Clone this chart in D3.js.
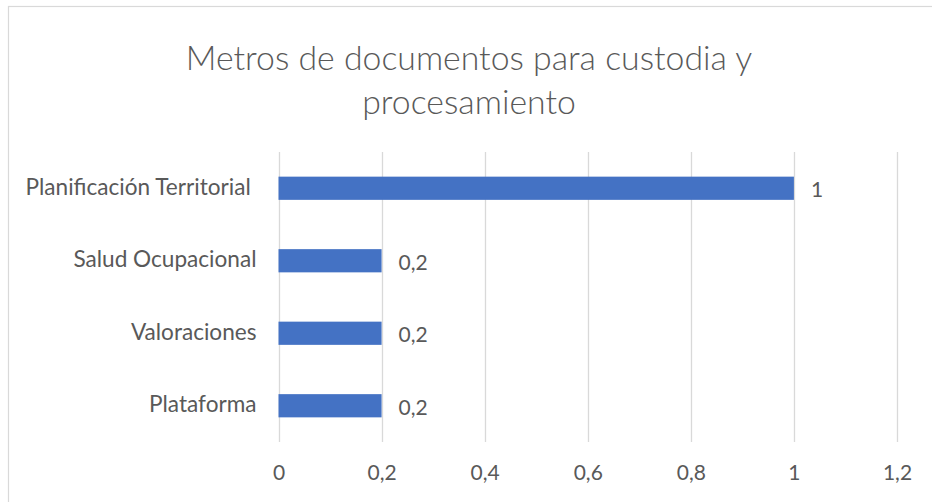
<!DOCTYPE html>
<html>
<head>
<meta charset="utf-8">
<script src="https://cdn.jsdelivr.net/npm/d3@7"></script>
<style>
  body { margin: 0; background: #fff; }
  text { font-family: Lato, "Open Sans", sans-serif; fill: #595959; }
</style>
</head>
<body>
<script>
// chart data, top to bottom
var categories = ["Planificación Territorial ", "Salud Ocupacional", "Valoraciones", "Plataforma"];
var values = [1, 0.2, 0.2, 0.2];
var xTicks = [0, 0.2, 0.4, 0.6, 0.8, 1, 1.2];
var titleLines = ["Metros de documentos para custodia y", "procesamiento"];

var width = 932;
var height = 502;

var svg = d3.select("body").append("svg")
  .attr("width", width)
  .attr("height", height);

// chart frame (runs past the window on right and bottom)
svg.append("rect")
  .attr("x", 8.5)
  .attr("y", 6.5)
  .attr("width", 960)
  .attr("height", 540)
  .attr("fill", "none")
  .attr("stroke", "#d9d9d9")
  .attr("stroke-width", 1.2);

var esLocale = d3.formatLocale({decimal: ",", thousands: ".", grouping: [3], currency: ["", "€"]});
var fmt = esLocale.format(".1~f");

var x = d3.scaleLinear()
  .domain([0, 1.2])
  .range([278.5, 897]);

var y = d3.scaleBand()
  .domain(categories)
  .range([152, 442])
  .paddingInner(0.68)
  .paddingOuter(0.34);

// title (light weight, like the original)
svg.append("g").selectAll("text")
  .data(titleLines)
  .enter().append("text")
  .attr("x", 469)
  .attr("y", function(d, i) { return 70 + i * 43.5; })
  .attr("text-anchor", "middle")
  .style("font-size", "33.8px")
  .style("font-weight", 300)
  .text(function(d) { return d; });

// vertical gridlines
svg.append("g").selectAll("line")
  .data(xTicks)
  .enter().append("line")
  .attr("x1", function(d) { return Math.round(x(d)) + 0.5; })
  .attr("x2", function(d) { return Math.round(x(d)) + 0.5; })
  .attr("y1", 152)
  .attr("y2", 442)
  .attr("stroke", "#d9d9d9")
  .attr("stroke-width", 1.3);

// x axis labels
var xAxis = d3.axisBottom(x)
  .tickValues(xTicks)
  .tickFormat(fmt)
  .tickSize(0)
  .tickPadding(0);

var gx = svg.append("g")
  .attr("transform", "translate(0,480)")
  .call(xAxis);
gx.select(".domain").remove();
gx.selectAll("text")
  .attr("dy", 0)
  .style("font-size", "21px")
  .style("font-family", "Lato, 'Open Sans', sans-serif")
  .attr("fill", "#595959");

// y axis labels
var yAxis = d3.axisLeft(y)
  .tickSize(0)
  .tickPadding(22);

var gy = svg.append("g")
  .attr("transform", "translate(278.5,0)")
  .call(yAxis);
gy.select(".domain").remove();
gy.selectAll("text")
  .attr("dy", 6.5)
  .style("font-size", "22.6px")
  .style("font-family", "Lato, 'Open Sans', sans-serif")
  .style("white-space", "pre")
  .attr("fill", "#595959");

// bars
svg.append("g").selectAll("rect")
  .data(values)
  .enter().append("rect")
  .attr("x", x(0))
  .attr("y", function(d, i) { return y(categories[i]); })
  .attr("width", function(d) { return x(d) - x(0); })
  .attr("height", y.bandwidth())
  .attr("fill", "#4472c4");

// value labels
svg.append("g").selectAll("text")
  .data(values)
  .enter().append("text")
  .attr("x", function(d) { return x(d) + 17; })
  .attr("y", function(d, i) { return y(categories[i]) + y.bandwidth() / 2; })
  .attr("dy", 9)
  .style("font-size", "21px")
  .text(function(d) { return fmt(d); });
</script>
</body>
</html>
